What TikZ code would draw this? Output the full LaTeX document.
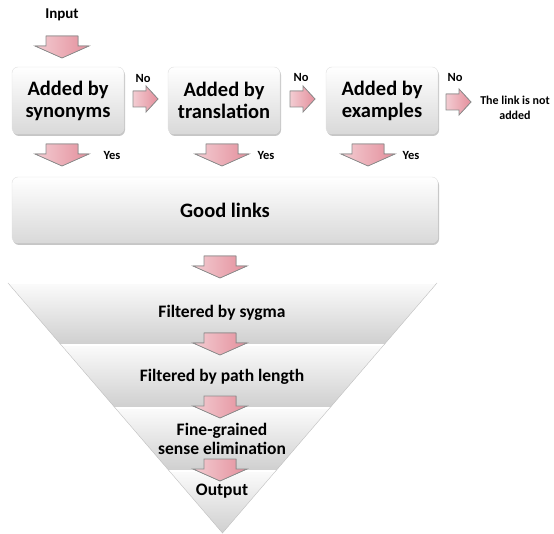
\documentclass[tikz,border=0pt]{standalone}
\usepackage{fontspec}
\setmainfont{Carlito}
\usepackage{tikz}
\usetikzlibrary{shadows}
\definecolor{arrpink}{HTML}{E48F9C}
\definecolor{arrline}{HTML}{8C8C8C}
\tikzstyle{block} = [rectangle, rounded corners=6pt, draw=gray!25, top color=white, bottom color=gray!30, drop shadow={shadow xshift=1pt, shadow yshift=-2pt, opacity=0.45}, font=\bfseries\fontsize{20.5}{22}\selectfont, align=center, minimum width=112pt, minimum height=67pt, inner sep=0pt]
\tikzstyle{lbl} = [font=\bfseries\fontsize{12.5}{13}\selectfont, inner sep=0pt]
\tikzstyle{stage} = [font=\bfseries\fontsize{17.5}{19.5}\selectfont, align=center, inner sep=0pt]
\tikzstyle{arrow body} = [left color=arrpink!45!white, right color=arrpink, draw=arrline, line width=0.8pt, line join=miter]
\tikzset{
  pics/downarr/.style={code={
    \filldraw[arrow body] (-16,0) -- (16,0) -- (16,10) -- (27,10) -- (0,22) -- (-27,10) -- (-16,10) -- cycle;}},
  pics/rightarr/.style={code={
    \filldraw[arrow body] (0,-8) -- (13,-8) -- (13,-13) -- (25,0) -- (13,13) -- (13,8) -- (0,8) -- cycle;}}
}

\begin{document}
\begin{tikzpicture}[x=1pt,y=-1pt]
\useasboundingbox (0,0) rectangle (554,534);

\node [lbl, font=\bfseries\fontsize{15}{16}\selectfont] (input) at (62,15) {Input};
\pic at (62,36) {downarr};

\node [block] (syn) at (68,100.5) {Added by\\synonyms};
\node [block] (trans) at (224,100.5) {Added by\\translation};
\node [block] (ex) at (382,100.5) {Added by\\examples};

% no branches
\node [lbl] (no1) at (143,78) {No};
\node [lbl] (no2) at (301,77) {No};
\node [lbl] (no3) at (455,77) {No};
\pic at (133,99) {rightarr};
\pic at (290,99) {rightarr};
\pic at (446,102) {rightarr};
\node [lbl, font=\bfseries\fontsize{12}{15}\selectfont, align=center] (notadded) at (515,108) {The link is not\\added};

% yes branches
\pic at (62,144) {downarr};
\pic at (222,144) {downarr};
\pic at (368,144) {downarr};
\node [lbl] (yes1) at (112,155) {Yes};
\node [lbl] (yes2) at (266,155) {Yes};
\node [lbl] (yes3) at (411,155) {Yes};

\node [block, minimum width=426pt, minimum height=66pt] (good) at (225,210) {Good links};
\pic at (220,256) {downarr};

% funnel
\coordinate (ftl) at (8,283);
\coordinate (ftr) at (437,283);
\coordinate (fap) at (222.5,533);
\begin{scope}
\clip (ftl) -- (ftr) -- (fap) -- cycle;
\foreach \ya/\yb in {283/345,345/408,408/471,471/534}{
  \shade [top color=gray!3, bottom color=gray!38] (0,\ya) rectangle (450,\yb);
  \draw [white, line width=1.2pt] (0,\ya) -- (450,\ya);
}
\end{scope}
\draw [gray!50] (ftl) -- (fap) -- (ftr);

\node [stage] (sygma) at (222,313) {Filtered by sygma};
\node [stage] (path) at (222,377) {Filtered by path length};
\node [stage] (fine) at (222,439) {Fine-grained\\sense elimination};
\node [stage] (out) at (222,491) {Output};

\pic at (220,333) {downarr};
\pic at (220,396) {downarr};
\pic at (220,459) {downarr};

\end{tikzpicture}
\end{document}
